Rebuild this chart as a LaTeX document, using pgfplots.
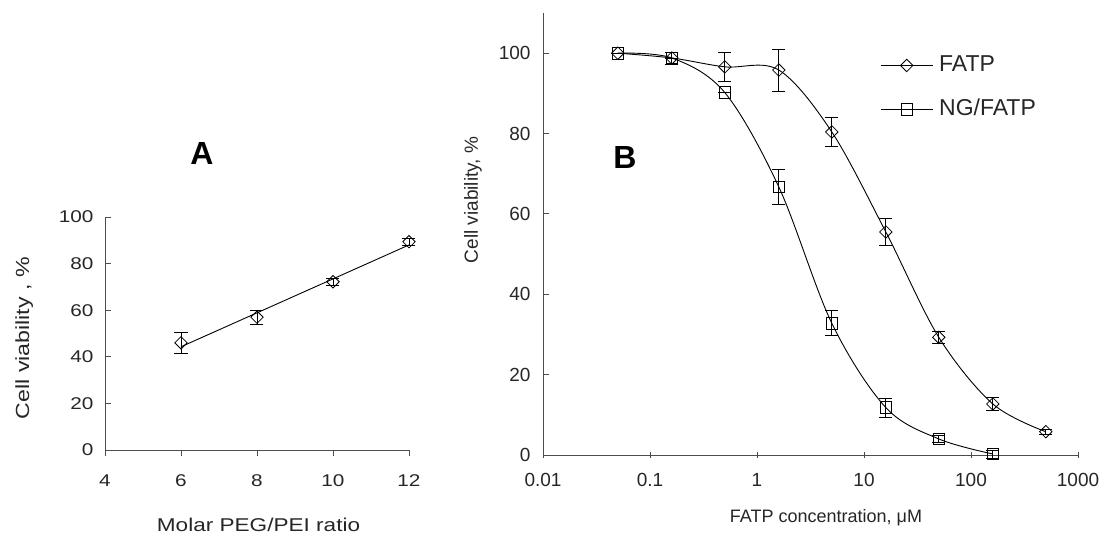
\documentclass[border=0pt]{standalone}
\usepackage{pgfplots}
\pgfplotsset{compat=1.18}
\usepackage{fontspec}
\setmainfont{Liberation Sans}
\newfontfamily\widefont[FakeStretch=1.22]{Liberation Sans}

\pgfplotsset{
  mystyle/.style={
    scale only axis,
    axis lines=left,
    axis line style={-, black!70, line width=0.9pt},
    tick style={black!70, line width=0.9pt},
    major tick length=6pt,
    minor tick length=4pt,
    xtick align=outside, ytick align=inside,
    /pgf/number format/assume math mode=true,
    clip=false,
  },
  mydia/.style={black, line width=0.9pt, mark=square, mark size=4.4pt,
    mark options={fill=white, solid, rotate=45, line width=0.8pt}},
  mysq/.style={black, line width=0.9pt, mark=square, mark size=5.8pt,
    mark options={fill=white, solid, line width=0.8pt}},
  myerr/.style={error bars/.cd, y dir=both, y explicit,
    error bar style={line width=0.8pt, black},
    error mark options={rotate=90, mark size=6.5pt, line width=0.8pt, black}},
}

\begin{document}
\begin{tikzpicture}[x=1pt,y=1pt]
\useasboundingbox (0,0) rectangle (1107,540);

% ---------------- Panel A ----------------
\begin{axis}[mystyle,
  at={(105pt,90pt)}, anchor=south west,
  width=304pt, height=233pt,
  xmin=4, xmax=12, ymin=0, ymax=100,
  xtick={4,6,8,10,12}, ytick={0,20,40,60,80,100},
  tick label style={font=\widefont\fontsize{17}{20}\selectfont, text=black!85},
  yticklabel style={xshift=-8pt},
  xticklabel style={yshift=-15pt},
  xlabel={Molar PEG/PEI ratio},
  xlabel style={font=\widefont\fontsize{18.5}{22}\selectfont, text=black!85,
    at={(axis description cs:0.505,-0.322)}, anchor=center},
  ylabel={Cell viability , \%},
  ylabel style={font=\widefont\fontsize{19}{22}\selectfont, text=black!85,
    at={(axis description cs:-0.266,0.48)}, anchor=center},
]
\addplot[black, line width=0.9pt] coordinates {(6,44.3) (12,88.0)};
\addplot[mydia, only marks, myerr] coordinates {
  (6,46.0) +- (0,4.5)
  (8,57.0) +- (0,3.0)
  (10,72.2) +- (0,1.5)
  (12,89.4) +- (0,1.5)
};
\end{axis}

% ---------------- Panel B ----------------
\begin{axis}[mystyle,
  at={(543pt,85pt)}, anchor=south west,
  width=535pt, height=442pt,
  xmode=log, log basis x=10,
  xmin=0.01, xmax=1000, ymin=0, ymax=110,
  xtick={0.01,0.1,1,10,100,1000},
  xticklabels={0.01,0.1,1,10,100,1000},
  xtick align=center,
  ytick={0,20,40,60,80,100},
  tick label style={font=\fontsize{19}{22}\selectfont, text=black!85},
  yticklabel style={xshift=-9pt},
  xticklabel style={yshift=-12pt},
  xlabel={FATP concentration, μM},
  xlabel style={font=\fontsize{18}{22}\selectfont, text=black!85,
    at={(axis description cs:0.529,-0.1425)}, anchor=center},
  ylabel={Cell viability, \%},
  ylabel style={font=\fontsize{19}{22}\selectfont, text=black!85,
    at={(axis description cs:-0.131,0.577)}, anchor=center},
  legend style={at={(0.63,0.91)}, anchor=north west, draw=none, fill=none,
    font=\fontsize{23}{26}\selectfont, text=black!85,
    row sep=19pt, inner sep=0pt,
    nodes={text height=17pt, text depth=4pt, inner sep=2pt},
    /tikz/every odd column/.append style={column sep=4pt}},
  legend cell align=left,
  legend image code/.code={
    \draw[mark repeat=2, mark phase=2, #1] plot coordinates {(0pt,0pt) (26pt,0pt) (52pt,0pt)};
  },
]
\addplot[mydia, smooth, tension=0.55, myerr] coordinates {
  (0.05,100) +- (0,0)
  (0.16,98.8) +- (0,0)
  (0.5,96.6) +- (0,3.7)
  (1.6,95.8) +- (0,5.2)
  (5,80.4) +- (0,3.7)
  (16,55.5) +- (0,3.3)
  (50,29.3) +- (0,1.5)
  (160,12.7) +- (0,1.7)
  (500,5.8) +- (0,0.6)
};
\addlegendentry{FATP}
\addplot[mysq, smooth, tension=0.55, myerr] coordinates {
  (0.05,100) +- (0,0)
  (0.16,98.8) +- (0,1.5)
  (0.5,90.2) +- (0,0)
  (1.6,66.7) +- (0,4.3)
  (5,32.8) +- (0,3.1)
  (16,11.8) +- (0,2.4)
  (50,4.0) +- (0,0.8)
  (160,0.25) +- (0,1.0)
};
\addlegendentry{NG/FATP}
\end{axis}

\node[font=\fontsize{32}{36}\selectfont\bfseries] at (202,387) {A};
\node[font=\fontsize{32}{36}\selectfont\bfseries] at (625,383) {B};
\end{tikzpicture}
\end{document}
